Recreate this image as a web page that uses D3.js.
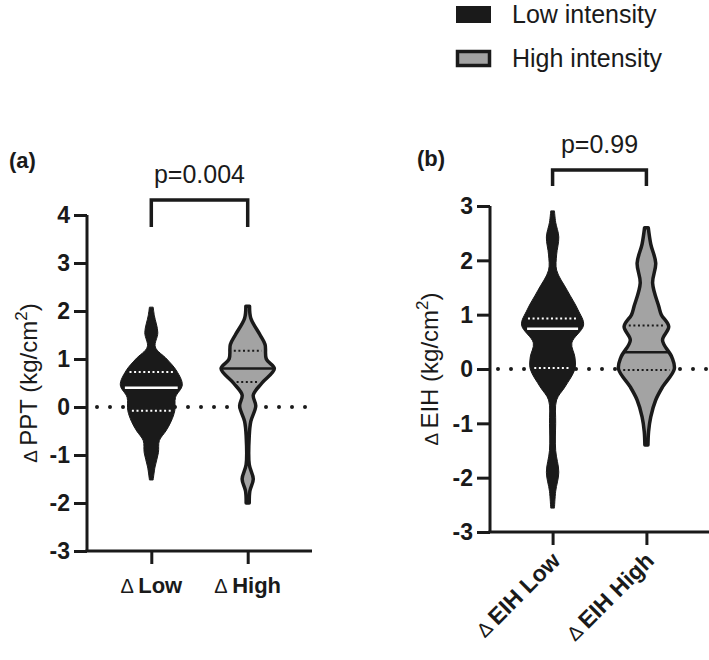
<!DOCTYPE html>
<html>
<head>
<meta charset="utf-8">
<script src="https://cdn.jsdelivr.net/npm/d3@7"></script>
<style>
  body { margin: 0; background: #fff; }
  svg { display: block; font-family: "Liberation Sans", Arial, sans-serif; }
</style>
</head>
<body>
<svg id="chart" width="709" height="660"></svg>
<script>
// ---------- data ----------
const seriesNames = ["Low intensity", "High intensity"];
const categoriesA = ["Low", "High"];
const categoriesB = ["EIH Low", "EIH High"];
const ticksA = [-3, -2, -1, 0, 1, 2, 3, 4];
const ticksB = [-3, -2, -1, 0, 1, 2, 3];
const pValueA = "p=0.004";
const pValueB = "p=0.99";

// violin profiles: [value, relative half-width]
const pptLow = [[2.08,0.06],[1.9,0.1],[1.55,0.21],[1.25,0.13],[1.0,0.5],[0.75,0.82],[0.46,1.0],[0.2,0.78],[-0.07,0.76],[-0.3,0.64],[-0.5,0.47],[-0.7,0.26],[-0.95,0.23],[-1.25,0.12],[-1.52,0.06]];
const pptHigh = [[2.1,0.06],[1.85,0.1],[1.5,0.4],[1.3,0.56],[1.0,0.6],[0.8,0.86],[0.5,0.46],[0.25,0.18],[0.02,0.26],[-0.3,0.1],[-0.6,0.05],[-1.2,0.05],[-1.5,0.18],[-1.75,0.07],[-2.0,0.05]];
const eihLow = [[2.91,0.06],[2.7,0.1],[2.43,0.2],[2.1,0.13],[1.82,0.13],[1.45,0.47],[1.09,0.82],[0.81,1.0],[0.48,0.62],[0.22,0.72],[0.0,0.72],[-0.33,0.4],[-0.57,0.13],[-1.0,0.1],[-1.5,0.1],[-1.9,0.2],[-2.25,0.1],[-2.56,0.06]];
const eihHigh = [[2.6,0.06],[2.3,0.14],[1.95,0.3],[1.58,0.2],[1.15,0.4],[1.0,0.48],[0.78,0.72],[0.53,0.52],[0.22,0.82],[0.0,0.9],[-0.33,0.52],[-0.57,0.3],[-0.88,0.14],[-1.15,0.07],[-1.4,0.05]];

// summary stats: [q1, median, q3]
const statsA = [[-0.08, 0.4, 0.73], [0.52, 0.8, 1.17]];
const statsB = [[0.02, 0.74, 0.93], [-0.02, 0.31, 0.8]];

// ---------- drawing ----------
const svg = d3.select("#chart");
const BLACK = "#1a1a1a", GRAY = "#a3a3a3";
const wScale = d3.scaleLinear().domain([0, 1]).range([0, 31]);

function halfWidthAt(profile, v) {
  const p = profile.slice().sort((a, b) => a[0] - b[0]);
  for (let i = 0; i < p.length - 1; i++) {
    if (v >= p[i][0] && v <= p[i + 1][0]) {
      const t = (v - p[i][0]) / (p[i + 1][0] - p[i][0]);
      return p[i][1] + t * (p[i + 1][1] - p[i][1]);
    }
  }
  return 0;
}

function drawPanel(cfg) {
  const g = svg.append("g");
  const y = d3.scaleLinear().domain(cfg.yDomain).range(cfg.yRange);
  const x = d3.scalePoint().domain(cfg.cats).range(cfg.xRange).padding(0.667);

  // zero dotted line
  g.append("line")
    .attr("x1", cfg.zeroX[0]).attr("x2", cfg.zeroX[1])
    .attr("y1", y(0)).attr("y2", y(0))
    .attr("stroke", BLACK).attr("stroke-width", 4)
    .attr("stroke-linecap", "round")
    .attr("stroke-dasharray", "0 13");

  // violins
  cfg.profiles.forEach((prof, i) => {
    const cx = x(cfg.cats[i]);
    const isHigh = i === 1;
    const area = d3.area()
      .y(d => y(d[0]))
      .x0(d => cx - wScale(d[1]))
      .x1(d => cx + wScale(d[1]))
      .curve(d3.curveCatmullRom.alpha(0.5));
    g.append("path")
      .datum(prof)
      .attr("d", area)
      .attr("fill", isHigh ? GRAY : BLACK)
      .attr("stroke", BLACK)
      .attr("stroke-width", isHigh ? 3.5 : 1)
      .attr("stroke-linejoin", "round");

    const lineColor = isHigh ? BLACK : "#fff";
    const [q1, med, q3] = cfg.stats[i];
    [q1, q3].forEach(q => {
      const hw = wScale(halfWidthAt(prof, q)) - 4;
      g.append("line")
        .attr("x1", cx - hw).attr("x2", cx + hw)
        .attr("y1", y(q)).attr("y2", y(q))
        .attr("stroke", lineColor).attr("stroke-width", 2)
        .attr("stroke-dasharray", "2 2.6");
    });
    const hwm = wScale(halfWidthAt(prof, med)) - (isHigh ? 1 : 3);
    g.append("line")
      .attr("x1", cx - hwm).attr("x2", cx + hwm)
      .attr("y1", y(med)).attr("y2", y(med))
      .attr("stroke", lineColor).attr("stroke-width", 2.5);
  });

  // axes (lines via d3.axis, labels drawn explicitly)
  const ya = g.append("g")
    .attr("transform", `translate(${cfg.xRange[0]},0)`)
    .call(d3.axisLeft(y).tickValues(cfg.ticks).tickSize(13).tickFormat(""));
  const xa = g.append("g")
    .attr("transform", `translate(0,${cfg.yRange[0]})`)
    .call(d3.axisBottom(x).tickSize(13).tickFormat(""));
  [ya, xa].forEach(a => {
    a.select(".domain").attr("stroke", BLACK).attr("stroke-width", 3);
    a.selectAll(".tick line").attr("stroke", BLACK).attr("stroke-width", 3);
  });
  ya.select(".domain").attr("d", `M0,${cfg.yRange[0]}V${cfg.yRange[1]}`);
  xa.select(".domain").attr("d", `M${cfg.xRange[0] - 1.5},0H${cfg.xRange[1]}`);

  g.append("g").selectAll("text").data(cfg.ticks).join("text")
    .attr("x", cfg.xRange[0] - 17)
    .attr("y", d => y(d))
    .attr("dy", "0.36em")
    .attr("text-anchor", "end")
    .attr("font-size", 23).attr("font-weight", "bold").attr("fill", BLACK)
    .text(d => String(d));

  // x tick labels
  cfg.cats.forEach(c => {
    const t = g.append("text")
      .attr("font-size", cfg.rotate ? 23 : 22).attr("font-weight", "bold").attr("fill", BLACK);
    if (cfg.rotate) {
      t.attr("text-anchor", "end")
        .attr("transform", `translate(${x(c) + 9},${cfg.yRange[0] + 30}) rotate(-45)`);
    } else {
      t.attr("text-anchor", "middle")
        .attr("x", x(c)).attr("y", cfg.yRange[0] + 42);
    }
    t.append("tspan").attr("font-weight", "normal").attr("font-size", 20).text("\u0394 ");
    t.append("tspan").text(c);
  });

  // y title
  const yt = g.append("text")
    .attr("transform", `translate(${cfg.titleX},${(cfg.yRange[0] + cfg.yRange[1]) / 2}) rotate(-90)`)
    .attr("text-anchor", "middle").attr("font-size", 24).attr("fill", BLACK);
  yt.append("tspan").attr("font-size", 19).text("\u0394 ");
  yt.append("tspan").text(cfg.title + " (kg/cm");
  yt.append("tspan").attr("font-size", 17).attr("dy", -10).text("2");
  yt.append("tspan").attr("dy", 10).text(")");

  // bracket + p value
  const bx0 = x(cfg.cats[0]), bx1 = x(cfg.cats[1]);
  g.append("path")
    .attr("d", `M${bx0},${cfg.bracket[1]}V${cfg.bracket[0]}H${bx1}V${cfg.bracket[1]}`)
    .attr("fill", "none").attr("stroke", BLACK).attr("stroke-width", 3.5);
  g.append("text")
    .attr("x", (bx0 + bx1) / 2).attr("y", cfg.bracket[0] - 17)
    .attr("text-anchor", "middle").attr("font-size", 25).attr("fill", BLACK)
    .text(cfg.p);

  // panel label
  g.append("text")
    .attr("x", cfg.label[0]).attr("y", cfg.label[1])
    .attr("font-size", 22).attr("font-weight", "bold").attr("fill", BLACK)
    .text(cfg.labelText);
}

drawPanel({
  cats: categoriesA, ticks: ticksA, yDomain: [-3, 4], yRange: [551, 215],
  xRange: [87, 312], zeroX: [97, 310], profiles: [pptLow, pptHigh], stats: statsA,
  rotate: false, title: "PPT", titleX: 37, bracket: [200, 227], p: pValueA,
  label: [9, 168], labelText: "(a)"
});
drawPanel({
  cats: categoriesB, ticks: ticksB, yDomain: [-3, 3], yRange: [532, 206],
  xRange: [490, 709], zeroX: [498, 712], profiles: [eihLow, eihHigh], stats: statsB,
  rotate: true, title: "EIH", titleX: 438, bracket: [170, 186], p: pValueB,
  label: [417, 166], labelText: "(b)"
});

// legend
const legend = svg.append("g");
seriesNames.forEach((name, i) => {
  const yy = 6 + i * 44;
  legend.append("rect")
    .attr("x", i === 0 ? 456 : 457.5).attr("y", i === 0 ? yy : yy + 1.5)
    .attr("width", i === 0 ? 35 : 32).attr("height", i === 0 ? 17 : 14)
    .attr("fill", i === 0 ? BLACK : GRAY)
    .attr("stroke", i === 0 ? "none" : BLACK).attr("stroke-width", 3.5);
  legend.append("text")
    .attr("x", 512).attr("y", yy + 17)
    .attr("font-size", 25).attr("fill", BLACK)
    .text(name);
});
</script>
</body>
</html>
